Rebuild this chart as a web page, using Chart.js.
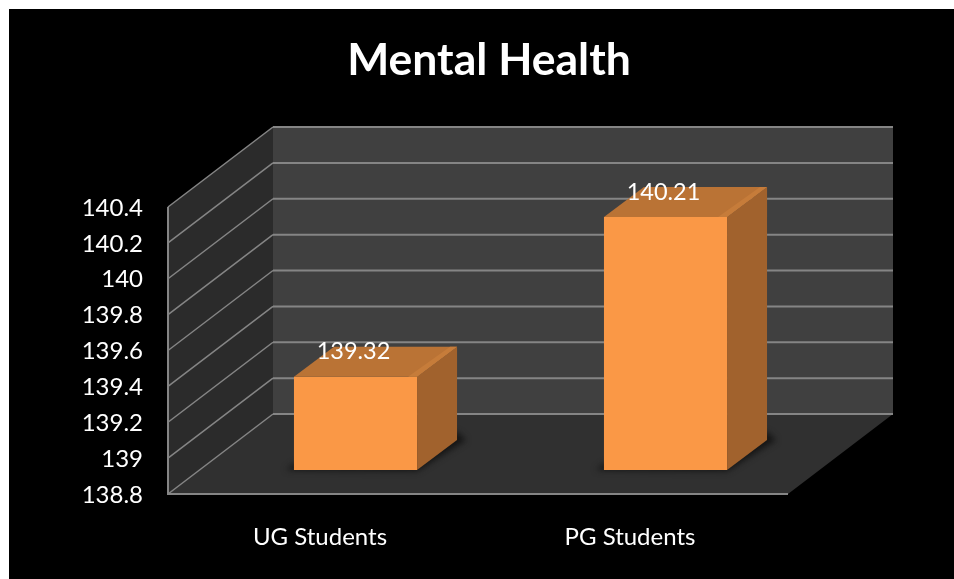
<!DOCTYPE html>
<html><head><meta charset="utf-8">
<style>html,body{margin:0;padding:0;background:#fff}canvas{display:block}</style>
<script src="https://cdn.jsdelivr.net/npm/chart.js@4"></script>
</head><body>
<canvas id="c" width="954" height="579"></canvas>
<script>
const categories = ["UG Students", "PG Students"];
const studentScores = [139.32, 140.21];
const chartTitle = "Mental Health";
const axisMin = 138.8, axisMax = 140.4, axisStep = 0.2;

const WALL_DX = 105, WALL_DY = -80;      // projected depth of the 3-D box
const BAR_SHIFT_X = 32.5, BAR_SHIFT_Y = -24; // where the bars stand on the floor
const BAR_DX = 40, BAR_DY = -30;         // projected depth of each bar
const FONT = "Lato, Carlito, sans-serif";

function poly(ctx, pts, fill) {
  ctx.beginPath();
  pts.forEach((p, i) => i ? ctx.lineTo(p[0], p[1]) : ctx.moveTo(p[0], p[1]));
  ctx.closePath();
  ctx.fillStyle = fill;
  ctx.fill();
}
function seg(ctx, x1, y1, x2, y2, w) {
  ctx.beginPath(); ctx.moveTo(x1, y1); ctx.lineTo(x2, y2);
  ctx.lineWidth = w; ctx.strokeStyle = "#858585"; ctx.stroke();
}

const box3d = {
  id: "box3d",
  afterLayout(chart) {
    chart.titleBlock.left = 24;
    chart.titleBlock.right = chart.width;
  },
  beforeDraw(chart) {
    const ctx = chart.ctx;
    ctx.save();
    ctx.fillStyle = "#fff"; ctx.fillRect(0, 0, chart.width, chart.height);
    ctx.fillStyle = "#000"; ctx.fillRect(9, 9, chart.width - 9, chart.height - 9);
    ctx.restore();
  },
  beforeDatasetsDraw(chart) {
    const ctx = chart.ctx, a = chart.chartArea, y = chart.scales.y;
    const L = a.left, R = a.right, T = a.top, B = a.bottom;
    ctx.save();
    // walls and floor
    poly(ctx, [[L + WALL_DX, T + WALL_DY], [R + WALL_DX, T + WALL_DY], [R + WALL_DX, B + WALL_DY], [L + WALL_DX, B + WALL_DY]], "#404040");
    poly(ctx, [[L, T], [L + WALL_DX, T + WALL_DY], [L + WALL_DX, B + WALL_DY], [L, B]], "#2b2b2b");
    poly(ctx, [[L, B], [L + WALL_DX, B + WALL_DY], [R + WALL_DX, B + WALL_DY], [R, B]], "#303030");
    // gridlines from the scale
    for (let i = 0; i < y.ticks.length; i++) {
      const p = y.getPixelForValue(y.ticks[i].value);
      seg(ctx, L, p, L + WALL_DX, p + WALL_DY, 1.5);
      seg(ctx, L + WALL_DX, p + WALL_DY, R + WALL_DX, p + WALL_DY, 2);
    }
    seg(ctx, L, T, L, B + 1, 2);
    seg(ctx, L - 1, B, R, B, 2);
    // soft shadows on the floor
    const meta = chart.getDatasetMeta(0);
    ctx.filter = "blur(3px)";
    meta.data.forEach(b => {
      const l = b.x - b.width / 2 + BAR_SHIFT_X, r = b.x + b.width / 2 + BAR_SHIFT_X, f = b.base + BAR_SHIFT_Y;
      poly(ctx, [[l - 8, f], [r, f + 1], [r + BAR_DX + 9, f + BAR_DY], [r + BAR_DX, f + BAR_DY - 8], [l, f - 6]], "rgba(15,15,15,.85)");
    });
    ctx.filter = "none";
    ctx.restore();
    ctx.save();
    ctx.translate(BAR_SHIFT_X, BAR_SHIFT_Y);
  },
  afterDatasetsDraw(chart) {
    const ctx = chart.ctx;
    ctx.restore();
    ctx.save();
    const meta = chart.getDatasetMeta(0);
    meta.data.forEach((b, i) => {
      const l = b.x - b.width / 2 + BAR_SHIFT_X, r = b.x + b.width / 2 + BAR_SHIFT_X;
      const t = b.y + BAR_SHIFT_Y, f = b.base + BAR_SHIFT_Y;
      poly(ctx, [[r, t], [r + BAR_DX, t + BAR_DY], [r + BAR_DX, f + BAR_DY], [r, f]], "#a1622d");
      poly(ctx, [[l, t], [l + BAR_DX, t + BAR_DY], [r + BAR_DX, t + BAR_DY], [r, t]], "#ba7335");
      poly(ctx, [[r - 9, t], [r + BAR_DX - 7, t + BAR_DY], [r + BAR_DX, t + BAR_DY], [r, t]], "#c67c3a");
      ctx.fillStyle = "#fff";
      ctx.font = "23.5px " + FONT;
      ctx.textAlign = "center";
      ctx.textBaseline = "middle";
      ctx.fillText(String(chart.data.datasets[0].data[i]), (l + r) / 2 - 2, t - 25);
    });
    ctx.restore();
  }
};

new Chart(document.getElementById("c"), {
  type: "bar",
  data: {
    labels: categories,
    datasets: [{
      label: chartTitle,
      data: studentScores,
      base: axisMin,
      backgroundColor: "#fa9846",
      borderWidth: 0,
      categoryPercentage: 1,
      barPercentage: 0.397
    }]
  },
  options: {
    responsive: false,
    animation: false,
    events: [],
    layout: { padding: { left: 0, right: 166, top: 0, bottom: 0 } },
    plugins: {
      legend: { display: false },
      tooltip: { enabled: false },
      title: {
        display: true,
        text: chartTitle,
        color: "#fff",
        font: { family: FONT, size: 44.5, weight: "bold", lineHeight: 1.2 },
        padding: { top: 34, bottom: 119.6 }
      }
    },
    scales: {
      x: {
        grid: { display: false },
        border: { display: false },
        ticks: { color: "#fff", font: { family: FONT, size: 24 }, padding: 21, labelOffset: -3, maxRotation: 0 },
        afterFit(s) { s.height = 85; }
      },
      y: {
        min: axisMin,
        max: axisMax,
        grid: { display: false },
        border: { display: false },
        ticks: {
          stepSize: axisStep,
          color: "#fff",
          font: { family: FONT, size: 24 },
          padding: 17,
          labelOffset: 1,
          callback: v => String(Number(v.toFixed(1)))
        },
        afterFit(s) { s.width = 168; }
      }
    }
  },
  plugins: [box3d]
});
</script>
</body></html>
